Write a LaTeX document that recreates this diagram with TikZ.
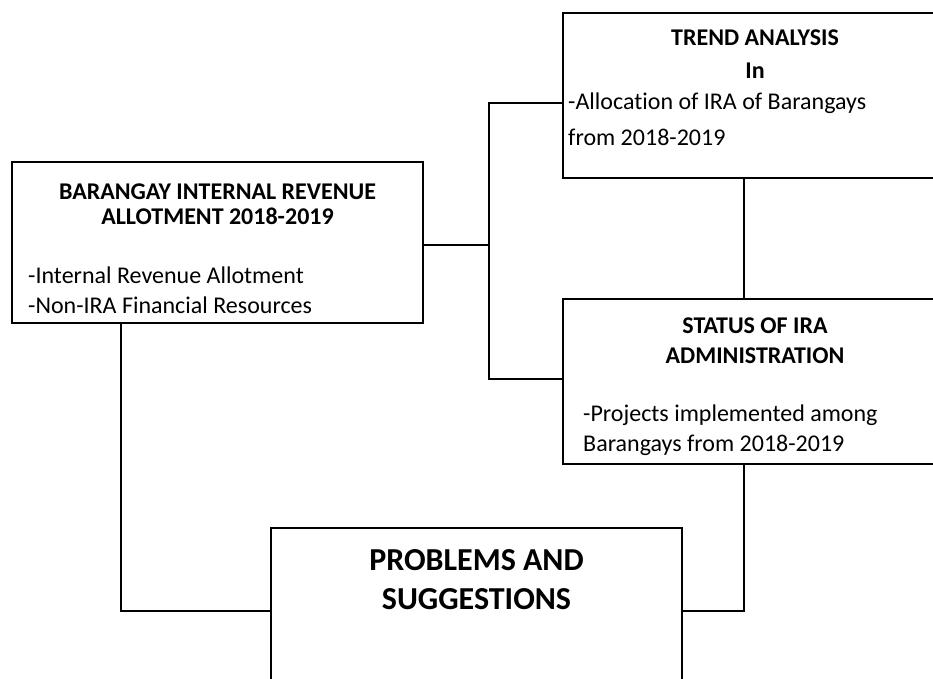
\documentclass[tikz,border=0pt]{standalone}
\usepackage{fontspec}
\setmainfont{Carlito}[Ligatures=NoCommon]
\usetikzlibrary{positioning}

\begin{document}
\begin{tikzpicture}[x=1pt,y=-1pt,
          line cap=rect,
          frame/.style={draw,line width=1.6pt,inner sep=0pt},
          hd/.style={font=\fontsize{24}{#1}\selectfont\bfseries,
                     align=center,inner sep=0pt,anchor=base},
          txt/.style={font=\fontsize{24}{#1}\selectfont,
                      align=left,inner sep=0pt,anchor=base west},
          link/.style={line width=1.6pt}]
        \useasboundingbox (0,0) rectangle (933,678);
        \clip (0,0) rectangle (933,678);
        % boxes
        \node[frame,minimum width=411,minimum height=161] (bira) at (217.5,242.5) {};
        \node[frame,minimum width=384,minimum height=165] (trend) at (755,95.5) {};
        \node[frame,minimum width=384,minimum height=165] (status) at (755,381.5) {};
        \node[frame,minimum width=411,minimum height=200] (probs) at (476.5,628) {};
        % texts (placed by the baseline of their last line)
        \node[hd=25] (bira-hd) at (217.5,224)
          {BARANGAY INTERNAL REVENUE\\ALLOTMENT 2018-2019};
        \node[txt=30] (bira-txt) at (28,313)
          {-Internal Revenue Allotment\\-Non-IRA Financial Resources};
        \node[hd=33] (trend-hd) at (755,78) {TREND ANALYSIS\\In};
        \node[txt=36] (trend-txt) at (568,145)
          {-Allocation of IRA of Barangays\\from 2018-2019};
        \node[hd=30] (status-hd) at (755,363) {STATUS OF IRA\\ADMINISTRATION};
        \node[txt=30] (status-txt) at (583,451)
          {-Projects implemented among\\Barangays from 2018-2019};
        \node[font=\fontsize{32}{39}\selectfont\bfseries,align=center,
              inner sep=0pt,anchor=base] (probs-hd) at (476.5,609)
          {PROBLEMS AND\\SUGGESTIONS};
        % connectors
        \coordinate (hub) at (489,245);
        \coordinate (hubN) at (489,103);
        \coordinate (hubS) at (489,379);
        \coordinate (spine) at (744,0);
        \coordinate (lowL) at (121,611);
        \coordinate (lowR) at (744,611);
        \draw[link] (bira.east |- hub) -- (hub);
        \draw[link] (trend.west |- hubN) -- (hubN) -- (hubS) -- (status.west |- hubS);
        \draw[link] (trend.south -| spine) -- (status.north -| spine);
        \draw[link] (bira.south -| lowL) -- (lowL) -- (probs.west |- lowL);
        \draw[link] (status.south -| lowR) -- (lowR) -- (probs.east |- lowR);
      \end{tikzpicture}
\end{document}
